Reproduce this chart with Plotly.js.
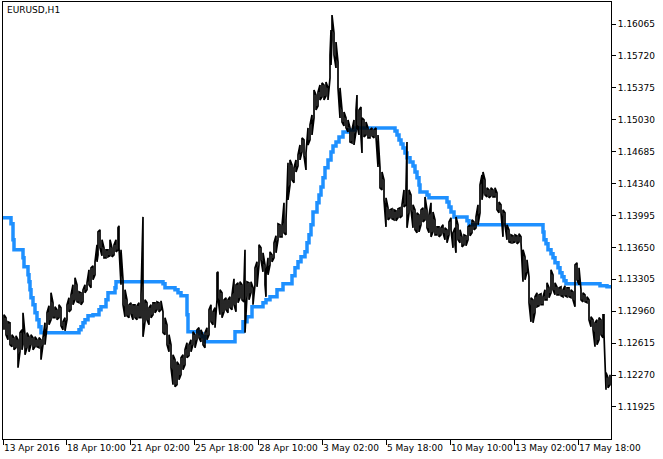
<!DOCTYPE html>
<html>
<head>
<meta charset="utf-8">
<script src="https://cdn.plot.ly/plotly-3.0.1.min.js"></script>
<style>
  html, body { margin: 0; padding: 0; background: #fff; }
  #chart { width: 663px; height: 459px; }
</style>
</head>
<body>
<div id="chart"></div>
<script>
// EURUSD H1 price bars (sampled high/low per bar index) and the step indicator line.
const symbolLabel = 'EURUSD,H1';

const barIndex = [
  1, 3, 5, 7, 9, 11, 13, 15, 17, 19,
  20, 22, 24, 26, 28, 30, 32, 34, 36, 38,
  40, 42, 44, 46, 48, 50, 52, 54, 56, 58,
  60, 62, 64, 66, 68, 70, 72, 74, 76, 78,
  80, 82, 84, 86, 88, 90, 92, 94, 95, 97,
  99, 101, 103, 105, 107, 109, 111, 113, 115, 116,
  118, 120, 122, 124, 126, 128, 130, 132, 134, 136,
  138, 140, 142, 144, 146, 148, 150, 152, 154, 156,
  158, 160, 162, 164, 166, 168, 170, 172, 174, 176,
  178, 180, 182, 184, 186, 188, 190, 192, 194, 196,
  198, 200, 202, 204, 206, 208, 210, 212, 214, 215,
  217, 219, 221, 223, 225, 227, 229, 231, 233, 235,
  237, 239, 241, 242, 244, 246, 248, 250, 252, 254,
  256, 258, 260, 262, 263, 265, 267, 269, 271, 273,
  275, 277, 279, 281, 283, 285, 287, 289, 291, 293,
  295, 297, 299, 301, 303, 305, 307, 309, 311, 313,
  315, 317, 319, 321, 323, 325, 327, 328, 329, 331,
  333, 335, 337, 339, 341, 343, 345, 347, 349, 351,
  353, 354, 356, 358, 359, 361, 363, 365, 367, 369,
  371, 373, 375, 377, 379, 381, 383, 385, 387, 389,
  391, 393, 395, 397, 399, 401, 403, 404, 406, 408,
  410, 412, 414, 416, 418, 420, 422, 424, 426, 428,
  430, 432, 434, 436, 438, 440, 442, 444, 446, 448,
  450, 452, 453, 455, 457, 459, 461, 463, 465, 467,
  469, 471, 473, 475, 477, 479, 480, 482, 484, 486,
  488, 490, 492, 494, 496, 498, 500, 502, 504, 506,
  508, 510, 512, 514, 516, 518, 520, 522, 524, 526,
  528, 530, 532, 534, 536, 538, 540, 542, 544, 546,
  548, 550, 552, 554, 556, 558, 560, 562, 564, 566,
  568, 570, 572, 574, 576, 578, 580, 582, 584, 586,
  588, 590, 592, 594, 596, 598, 600, 601, 603, 605,
  607
];

const barHigh = [
  1.12922, 1.12890, 1.12846, 1.12836, 1.12706, 1.12674, 1.12695, 1.12652, 1.12728, 1.12760,
  1.12944, 1.12706, 1.12728, 1.12684, 1.12706, 1.12674, 1.12684, 1.12652, 1.12674, 1.12652,
  1.12674, 1.12836, 1.12944, 1.13019, 1.13160, 1.13052, 1.13008, 1.12976, 1.13030, 1.12998,
  1.12846, 1.12890, 1.13030, 1.13106, 1.13138, 1.13246, 1.13322, 1.13246, 1.13170, 1.13160,
  1.13192, 1.13246, 1.13268, 1.13408, 1.13430, 1.13451, 1.13494, 1.13678, 1.13818, 1.13840,
  1.13732, 1.13646, 1.13624, 1.13624, 1.13732, 1.13646, 1.13678, 1.13732, 1.13862, 1.13883,
  1.13624, 1.13300, 1.13192, 1.13084, 1.13030, 1.13052, 1.13030, 1.13030, 1.13019, 1.13052,
  1.13138, 1.13980, 1.13084, 1.13052, 1.12998, 1.13030, 1.13052, 1.13052, 1.13062, 1.13052,
  1.13073, 1.12954, 1.12890, 1.12814, 1.12706, 1.12598, 1.12490, 1.12436, 1.12414, 1.12382,
  1.12458, 1.12490, 1.12544, 1.12620, 1.12598, 1.12652, 1.12738, 1.12706, 1.12760, 1.12782,
  1.12760, 1.12706, 1.12728, 1.12782, 1.12976, 1.13030, 1.12954, 1.12998, 1.13376, 1.13386,
  1.13192, 1.13160, 1.13084, 1.13106, 1.13084, 1.13116, 1.13138, 1.13311, 1.13246, 1.13268,
  1.13278, 1.13246, 1.13268, 1.13624, 1.13278, 1.13268, 1.13278, 1.13214, 1.13430, 1.13494,
  1.13678, 1.13646, 1.13592, 1.13462, 1.13354, 1.13538, 1.13602, 1.13570, 1.13700, 1.13775,
  1.13905, 1.13894, 1.13883, 1.14132, 1.13948, 1.14564, 1.14596, 1.14542, 1.14510, 1.14596,
  1.14650, 1.14758, 1.14834, 1.14812, 1.14672, 1.14942, 1.14974, 1.15082, 1.15352, 1.15298,
  1.15330, 1.15406, 1.15428, 1.15406, 1.15438, 1.15374, 1.15730, 1.16000, 1.16162, 1.15968,
  1.15870, 1.15654, 1.15374, 1.15136, 1.15114, 1.15050, 1.15028, 1.14942, 1.14920, 1.15028,
  1.15136, 1.15298, 1.15136, 1.15168, 1.15050, 1.15028, 1.15006, 1.14942, 1.14920, 1.14942,
  1.14920, 1.14942, 1.14866, 1.14510, 1.14466, 1.14380, 1.14186, 1.14078, 1.14056, 1.14067,
  1.14056, 1.14045, 1.14067, 1.14078, 1.14110, 1.14272, 1.14294, 1.14790, 1.14272, 1.14218,
  1.14110, 1.14056, 1.14024, 1.14002, 1.14056, 1.14078, 1.14196, 1.14056, 1.14002, 1.14132,
  1.14034, 1.13948, 1.13872, 1.13872, 1.13862, 1.13894, 1.13862, 1.13840, 1.13926, 1.13970,
  1.13808, 1.13862, 1.13980, 1.13894, 1.13840, 1.13764, 1.13786, 1.13775, 1.13872, 1.13894,
  1.13948, 1.13926, 1.13980, 1.14110, 1.14326, 1.14434, 1.14466, 1.14380, 1.14294, 1.14272,
  1.14294, 1.14272, 1.14294, 1.14240, 1.14142, 1.14110, 1.14056, 1.14024, 1.13894, 1.13840,
  1.13786, 1.13775, 1.13786, 1.13775, 1.13797, 1.13764, 1.13624, 1.13548, 1.13516, 1.13332,
  1.13106, 1.13084, 1.13116, 1.13160, 1.13138, 1.13149, 1.13116, 1.13192, 1.13268, 1.13214,
  1.13408, 1.13354, 1.13268, 1.13224, 1.13214, 1.13224, 1.13192, 1.13235, 1.13214, 1.13214,
  1.13192, 1.13170, 1.13462, 1.13484, 1.13430, 1.13192, 1.13160, 1.13138, 1.13116, 1.13084,
  1.12900, 1.12868, 1.12836, 1.12868, 1.12890, 1.12868, 1.12922, 1.12922, 1.12296, 1.12242,
  1.12274
];

const barLow = [
  1.12760, 1.12706, 1.12652, 1.12598, 1.12576, 1.12544, 1.12566, 1.12350, 1.12522, 1.12544,
  1.12598, 1.12490, 1.12566, 1.12522, 1.12598, 1.12544, 1.12576, 1.12576, 1.12566, 1.12436,
  1.12598, 1.12598, 1.12792, 1.12814, 1.12868, 1.12890, 1.12890, 1.12868, 1.12890, 1.12803,
  1.12760, 1.12749, 1.12868, 1.12954, 1.12976, 1.13030, 1.13084, 1.13062, 1.13052, 1.13030,
  1.13062, 1.13160, 1.13192, 1.13246, 1.13214, 1.13300, 1.13354, 1.13494, 1.13570, 1.13646,
  1.13559, 1.13538, 1.13538, 1.13548, 1.13559, 1.13548, 1.13570, 1.13602, 1.13624, 1.13646,
  1.13246, 1.13030, 1.12900, 1.12911, 1.12890, 1.12933, 1.12868, 1.12890, 1.12868, 1.12890,
  1.12890, 1.12684, 1.12846, 1.12868, 1.12814, 1.12890, 1.12922, 1.12944, 1.12976, 1.12954,
  1.12976, 1.12728, 1.12706, 1.12598, 1.12522, 1.12350, 1.12166, 1.12144, 1.12166, 1.12220,
  1.12274, 1.12328, 1.12382, 1.12458, 1.12479, 1.12522, 1.12598, 1.12566, 1.12652, 1.12674,
  1.12630, 1.12598, 1.12566, 1.12652, 1.12706, 1.12846, 1.12814, 1.12782, 1.13084, 1.13106,
  1.12922, 1.12890, 1.12954, 1.12976, 1.12944, 1.12998, 1.12976, 1.13030, 1.12954, 1.13052,
  1.13106, 1.13084, 1.13062, 1.12728, 1.13127, 1.13084, 1.13160, 1.13030, 1.13246, 1.13224,
  1.13462, 1.13516, 1.13386, 1.13246, 1.13116, 1.13354, 1.13462, 1.13494, 1.13538, 1.13592,
  1.13732, 1.13764, 1.13764, 1.13808, 1.13786, 1.14164, 1.14326, 1.14380, 1.14348, 1.14466,
  1.14531, 1.14596, 1.14682, 1.14639, 1.14488, 1.14758, 1.14812, 1.14866, 1.15050, 1.15136,
  1.15179, 1.15244, 1.15276, 1.15244, 1.15287, 1.15244, 1.15482, 1.15622, 1.15892, 1.15730,
  1.15590, 1.15374, 1.15050, 1.15006, 1.14963, 1.14942, 1.14898, 1.14790, 1.14780, 1.14758,
  1.14898, 1.14974, 1.14866, 1.14844, 1.14672, 1.14844, 1.14866, 1.14834, 1.14834, 1.14855,
  1.14834, 1.14844, 1.14520, 1.14294, 1.14272, 1.14164, 1.13872, 1.13948, 1.13970, 1.13959,
  1.13948, 1.13937, 1.13970, 1.13970, 1.13991, 1.14088, 1.14110, 1.13862, 1.14024, 1.14056,
  1.13862, 1.13840, 1.13808, 1.13818, 1.13894, 1.13926, 1.13948, 1.13862, 1.13808, 1.13764,
  1.13818, 1.13786, 1.13786, 1.13764, 1.13786, 1.13808, 1.13732, 1.13700, 1.13786, 1.13840,
  1.13646, 1.13678, 1.13592, 1.13732, 1.13700, 1.13656, 1.13678, 1.13667, 1.13732, 1.13775,
  1.13808, 1.13840, 1.13862, 1.13894, 1.14024, 1.14164, 1.14240, 1.14218, 1.14196, 1.14186,
  1.14207, 1.14196, 1.14196, 1.14056, 1.14024, 1.14024, 1.13764, 1.13894, 1.13732, 1.13710,
  1.13700, 1.13700, 1.13710, 1.13689, 1.13710, 1.13700, 1.13278, 1.13300, 1.13386, 1.13052,
  1.12846, 1.12836, 1.12944, 1.13008, 1.13019, 1.13030, 1.13030, 1.13084, 1.13084, 1.13106,
  1.13160, 1.13192, 1.13138, 1.13138, 1.13138, 1.13127, 1.13116, 1.13127, 1.13116, 1.13116,
  1.13106, 1.13084, 1.13008, 1.13300, 1.13246, 1.13084, 1.13062, 1.13062, 1.13052, 1.12868,
  1.12792, 1.12760, 1.12576, 1.12598, 1.12652, 1.12706, 1.12674, 1.12706, 1.12112, 1.12134,
  1.12166
];

// step indicator: value changes at these bar indexes
const lineIndex = [
  0, 8, 10, 11, 20, 21, 25, 26, 27, 28,
  30, 32, 34, 36, 38, 76, 78, 80, 82, 85,
  90, 96, 98, 103, 105, 112, 113, 160, 162, 172,
  175, 178, 184, 185, 197, 199, 202, 232, 240, 244,
  249, 260, 263, 267, 274, 280, 289, 292, 295, 298,
  302, 304, 306, 308, 310, 314, 316, 318, 320, 322,
  325, 328, 330, 333, 336, 340, 345, 352, 392, 394,
  396, 398, 400, 402, 404, 407, 410, 412, 414, 416,
  417, 424, 426, 444, 446, 448, 451, 464, 466, 540,
  541, 543, 545, 548, 550, 552, 555, 557, 559, 561,
  563, 597, 604, 608
];

const lineValue = [
  1.13970, 1.13905, 1.13732, 1.13624, 1.13538, 1.13440, 1.13354, 1.13278, 1.13192, 1.13106,
  1.13030, 1.12944, 1.12868, 1.12792, 1.12728, 1.12760, 1.12792, 1.12836, 1.12868, 1.12911,
  1.12922, 1.12976, 1.13008, 1.13084, 1.13160, 1.13214, 1.13278, 1.13257, 1.13214, 1.13192,
  1.13160, 1.13127, 1.12922, 1.12738, 1.12717, 1.12684, 1.12630, 1.12738, 1.12846, 1.12900,
  1.13008, 1.13052, 1.13084, 1.13116, 1.13192, 1.13257, 1.13343, 1.13430, 1.13494, 1.13548,
  1.13602, 1.13700, 1.13786, 1.13894, 1.14034, 1.14132, 1.14218, 1.14304, 1.14402, 1.14510,
  1.14596, 1.14682, 1.14747, 1.14790, 1.14844, 1.14898, 1.14920, 1.14942, 1.14909, 1.14866,
  1.14812, 1.14769, 1.14726, 1.14672, 1.14618, 1.14574, 1.14531, 1.14466, 1.14402, 1.14326,
  1.14250, 1.14218, 1.14186, 1.14142, 1.14088, 1.14034, 1.13980, 1.13937, 1.13894, 1.13818,
  1.13732, 1.13689, 1.13624, 1.13581, 1.13538, 1.13484, 1.13430, 1.13376, 1.13332, 1.13289,
  1.13257, 1.13235, 1.13224, 1.13224
];

const priceTicks = [1.11925, 1.12270, 1.12615, 1.12960, 1.13305, 1.13650, 1.13995, 1.14340, 1.14685, 1.15030, 1.15375, 1.15720, 1.16065];
const timeTickIndex = [0, 63, 127, 191, 255, 319, 383, 447, 511, 575];
const timeTickText = ['13 Apr 2016', '18 Apr 10:00', '21 Apr 02:00', '25 Apr 18:00', '28 Apr 10:00',
  '3 May 02:00', '5 May 18:00', '10 May 10:00', '13 May 02:00', '17 May 18:00'];

// zigzag through each sampled bar's low/high so the price reads as a dense bar ribbon
const px = [];
const py = [];
barIndex.forEach((ix, k) => {
  const a = k % 2 === 0 ? barLow[k] : barHigh[k];
  const b = k % 2 === 0 ? barHigh[k] : barLow[k];
  px.push(ix, ix);
  py.push(a, b);
});

const traces = [
  {
    type: 'scatter', mode: 'lines', x: lineIndex, y: lineValue,
    line: { color: '#1E90FF', width: 3.5, shape: 'hv' },
    hoverinfo: 'skip',
  },
  {
    type: 'scatter', mode: 'lines', x: px, y: py,
    line: { color: '#000000', width: 1.7 },
    hoverinfo: 'skip',
  },
];

const font = { family: 'DejaVu Sans, Verdana, sans-serif', size: 9, color: '#000' };

Plotly.newPlot('chart', traces, {
  width: 663, height: 459,
  paper_bgcolor: '#ffffff',
  plot_bgcolor: '#ffffff',
  font,
  showlegend: false,
  margin: { l: 3, r: 52, t: 2, b: 20 },
  xaxis: {
    range: [0, 608],
    tickmode: 'array', tickvals: timeTickIndex, ticktext: timeTickText,
    tickangle: 0,
    ticks: 'outside', ticklen: 5, tickcolor: '#000', tickwidth: 1,
    ticklabelposition: 'outside right',
    showline: true, mirror: true, linecolor: '#000', linewidth: 1,
    showgrid: false, zeroline: false, tickfont: font,
  },
  yaxis: {
    side: 'right',
    range: [1.11579, 1.16303],
    tickmode: 'array', tickvals: priceTicks, tickformat: '.5f',
    ticks: 'outside', ticklen: 4, tickcolor: '#000', tickwidth: 1,
    showline: true, mirror: true, linecolor: '#000', linewidth: 1,
    showgrid: false, zeroline: false, tickfont: font,
  },
  annotations: [{
    text: symbolLabel, xref: 'paper', yref: 'paper', x: 0, y: 1,
    xanchor: 'left', yanchor: 'top', xshift: 2, yshift: -1,
    showarrow: false, font,
  }],
}, { displayModeBar: false, staticPlot: true });
</script>
</body>
</html>
